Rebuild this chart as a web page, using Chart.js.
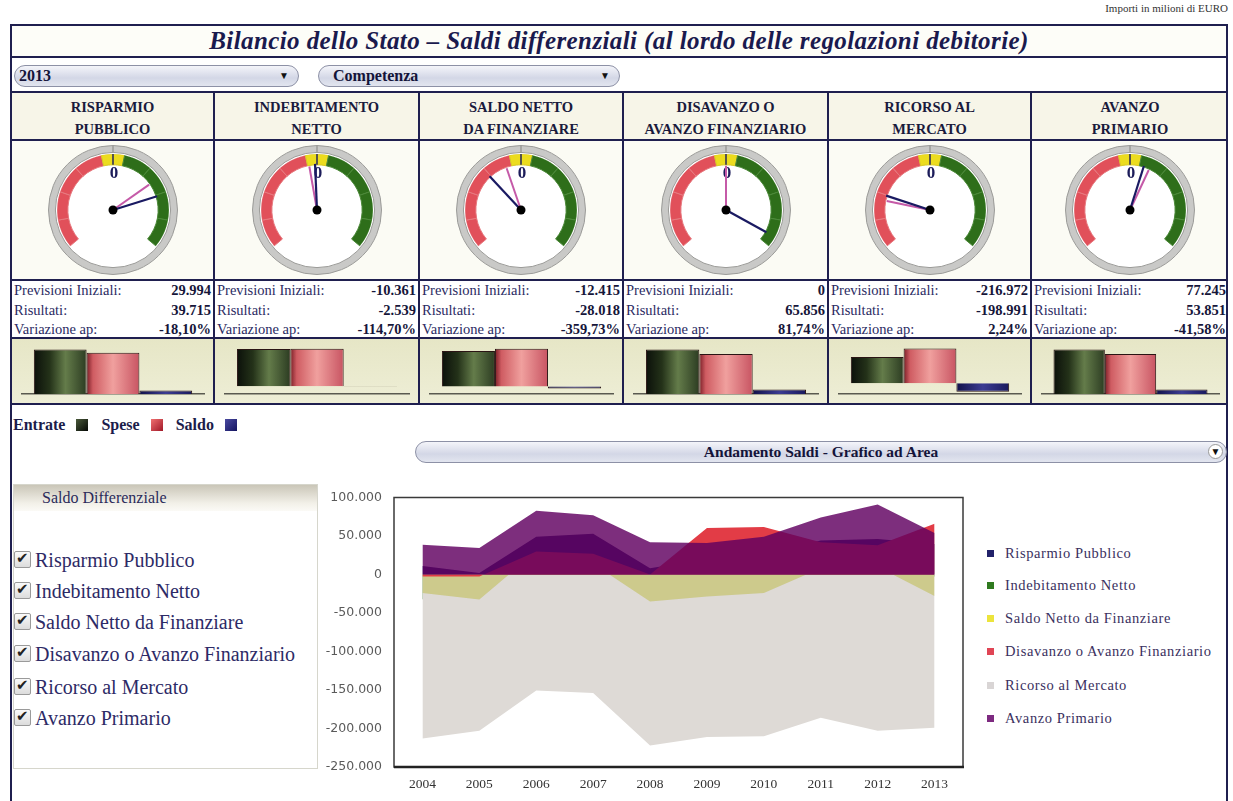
<!DOCTYPE html>
<html>
<head>
<meta charset="utf-8">
<script src="https://cdn.jsdelivr.net/npm/chart.js@4.4.1/dist/chart.umd.min.js"></script>
<style>
body{margin:0;width:1233px;height:801px;overflow:hidden;background:#fff;position:relative;
  font-family:"Liberation Serif","Times New Roman",serif;color:#1c1c4a}
.a{position:absolute}
.hl{position:absolute;left:10px;width:1218px;height:2px;background:#1f1f4f}
.vl{position:absolute;top:91px;width:2px;height:314px;background:#1f1f4f}
.combo{position:absolute;height:22px;border:1px solid #8d91a6;border-radius:11px;box-sizing:border-box;
  background:linear-gradient(#f4f5fa,#d3d7e6 60%,#e2e5ef);font-weight:bold;font-size:16px;line-height:20px;color:#14143a}
.combo .arr{position:absolute;right:9px;top:0;font-size:10px;color:#111}
.hdr{position:absolute;top:93px;height:46px;text-align:center;font-weight:bold;font-size:14.5px;line-height:22px;color:#1a1a3c;padding-top:3px;box-sizing:border-box}
.vals{position:absolute;top:281px;height:56px;font-size:14.5px;line-height:19.5px;color:#2a2a62}
.vals div{position:relative;padding-left:2px}
.vals b{position:absolute;right:2px;color:#16163a}
.chk{position:absolute;left:14px;font-size:20px;color:#2d2a66;white-space:nowrap;line-height:22px}
.chk span{display:inline-block;width:15px;height:15px;border:1px solid #9a9a9a;border-radius:2px;
  background:linear-gradient(#fafafa,#dcdcdc);vertical-align:-1px;margin-right:4px;position:relative}
.chk span:after{content:"\2714";position:absolute;left:1px;top:-5px;font-size:15px;color:#222;font-family:"DejaVu Sans"}
.leg{position:absolute;left:987px;font-size:14.5px;letter-spacing:0.6px;color:#3a305e;line-height:16px;white-space:nowrap}
.leg i{display:inline-block;width:7px;height:7px;margin-right:11px;vertical-align:1px}
.sq{display:inline-block;width:12px;height:12px;margin:0 13px 0 11px;vertical-align:-1px}
</style>
</head>
<body>
<div class="a" style="right:5px;top:2px;font-size:11px;color:#333">Importi in milioni di EURO</div>
<div class="a" style="left:10px;top:24px;width:1218px;height:800px;border:2px solid #1f1f4f;box-sizing:border-box"></div>
<div class="a" style="left:12px;top:26px;width:1214px;height:30px;background:#fdfdf8;text-align:center;font-weight:bold;font-style:italic;font-size:25px;letter-spacing:0.4px;line-height:30px;color:#1a1a4e">Bilancio dello Stato &ndash; Saldi differenziali (al lordo delle regolazioni debitorie)</div>
<div class="hl" style="top:56px"></div>
<div class="combo" style="left:14px;top:65px;width:285px;padding-left:4px">2013<span class="arr">&#9660;</span></div>
<div class="combo" style="left:318px;top:65px;width:302px;padding-left:14px">Competenza<span class="arr">&#9660;</span></div>
<div class="hl" style="top:91px"></div>
<div class="a" style="left:12px;top:93px;width:1214px;height:46px;background:#f7f5e8"></div>
<div class="hl" style="top:139px"></div>
<div class="a" style="left:12px;top:141px;width:1214px;height:138px;background:#fbfbf4"></div>
<div class="hl" style="top:279px"></div>
<div class="hl" style="top:337px"></div>
<div class="a" style="left:12px;top:339px;width:1214px;height:64px;background:linear-gradient(#e6e6c6,#eeeed6)"></div>
<div class="hl" style="top:403px"></div>
<div id="cells"></div>

<div class="a" style="left:13px;top:416px;font-weight:bold;font-size:16px;line-height:18px;color:#1c1c4a;white-space:nowrap">Entrate<i class="sq" style="background:linear-gradient(135deg,#4a5a3a,#050805)"></i>Spese<i class="sq" style="background:linear-gradient(135deg,#f07070,#a01828)"></i>Saldo<i class="sq" style="background:linear-gradient(135deg,#4a4aa0,#141460)"></i></div>

<div class="combo" style="left:415px;top:441px;width:812px;text-align:center;font-size:15.5px">Andamento Saldi - Grafico ad Area<span class="arr" style="right:3px;top:2px;width:15px;height:15px;border-radius:8px;background:#fff;border:1px solid #999;line-height:14px;text-align:center;box-sizing:border-box">&#9660;</span></div>

<div class="a" style="left:13px;top:484px;width:305px;height:285px;border:1px solid #d6d6cc;box-sizing:border-box;background:#fff"></div>
<div class="a" style="left:14px;top:485px;width:303px;height:26px;background:linear-gradient(#cac6b8,#f2f0e8 70%,#fbfaf6);font-size:16px;line-height:26px;color:#2a2a5a;padding-left:28px;box-sizing:border-box">Saldo Differenziale</div>
<div id="checks"></div>

<canvas id="mainChart" class="a" style="left:300px;top:478px;width:680px;height:322px"></canvas>
<div id="legend"></div>

<script>
// area chart data (milioni di euro)
const years = ["2004", "2005", "2006", "2007", "2008", "2009", "2010", "2011", "2012", "2013"];
const seriesNames = ["Risparmio Pubblico", "Indebitamento Netto", "Saldo Netto da Finanziare",
    "Disavanzo o Avanzo Finanziario", "Ricorso al Mercato", "Avanzo Primario"];
const risparmioPubblico = [11000, 2000, 49000, 53000, 8000, 20000, 28000, 44000, 46000, 39715];
const indebitamentoNetto = [-32000, -30000, -8000, -5000, -32000, -28000, -22000, -3000, -6000, -2539];
const saldoNetto = [-24000, -32500, 30000, 14000, -35000, -28500, -24000, 8000, 10000, -28018];
const disavanzo = [-2500, -2500, 30000, 27000, 0, 60500, 61800, 42000, 38000, 65856];
const ricorsoMercato = [-213000, -203000, -150500, -154000, -222000, -211000, -210000, -186000, -203000, -198991];
const avanzoPrimario = [38700, 34500, 82800, 77000, 42000, 41000, 49000, 74000, 91000, 53851];
const yTicks = [100000, 50000, 0, -50000, -100000, -150000, -200000, -250000];

// gauge / summary data
const gaugeTitles = [["RISPARMIO", "PUBBLICO"], ["INDEBITAMENTO", "NETTO"], ["SALDO NETTO", "DA FINANZIARE"],
    ["DISAVANZO O", "AVANZO FINANZIARIO"], ["RICORSO AL", "MERCATO"], ["AVANZO", "PRIMARIO"]];
const previsioni = [29994, -10361, -12415, 0, -216972, 77245];
const risultati = [39715, -2539, -28018, 65856, -198991, 53851];
const variazione = [-18.10, -114.70, -359.73, 81.74, 2.24, -41.58];
const gaugeMax = [71000, 135000, 85000, 72000, 360000, 400000];
const entrate = [520000, 478000, 468000, 640000, 600000, 540000];
const spese = [480285, 480539, 496018, 574144, 798991, 486149];
const barMin = [0, -100000, -100000, 0, -250000, 0];

const colX = [10, 213, 418, 622, 827, 1030, 1228];
const fmt = (v) => {
    let s = Math.abs(Math.round(v)).toString().replace(/\B(?=(\d{3})+(?!\d))/g, ".");
    return (v < 0 ? "-" : "") + s;
};

// table cells
let cells = document.getElementById("cells");
let html = "";
for (let i = 0; i < 6; i++) {
    let l = colX[i] + 2, w = colX[i + 1] - colX[i] - 2;
    if (i > 0) html += '<div class="vl" style="left:' + colX[i] + 'px"></div>';
    html += '<div class="hdr" style="left:' + l + 'px;width:' + w + 'px">' + gaugeTitles[i][0] + "<br>" + gaugeTitles[i][1] + "</div>";
    html += '<div class="vals" style="left:' + l + 'px;width:' + w + 'px">' +
        "<div>Previsioni Iniziali:<b>" + fmt(previsioni[i]) + "</b></div>" +
        "<div>Risultati:<b>" + fmt(risultati[i]) + "</b></div>" +
        "<div>Variazione ap:<b>" + variazione[i].toFixed(2).replace(".", ",") + "%</b></div></div>";
    let cx = Math.round((colX[i] + colX[i + 1]) / 2) + 1;
    html += '<canvas id="g' + i + '" class="a" style="left:' + (cx - 70) + 'px;top:140px;width:140px;height:140px"></canvas>';
    html += '<canvas id="b' + i + '" class="a" style="left:' + l + 'px;top:339px;width:' + w + 'px;height:64px"></canvas>';
}
cells.innerHTML = html;

let checks = "";
let checkY = [549, 580, 611, 643, 676, 707];
seriesNames.forEach((n, i) => {
    checks += '<div class="chk" style="top:' + checkY[i] + 'px"><span></span>' + n + "</div>";
});
document.getElementById("checks").innerHTML = checks;

// gauges
const gaugeNeedles = {
    id: "gaugeNeedles",
    beforeDatasetsDraw(chart) {
        let arc = chart.getDatasetMeta(0).data[0];
        let ctx = chart.ctx;
        ctx.save();
        ctx.fillStyle = "#ffffff";
        ctx.beginPath();
        ctx.arc(arc.x, arc.y, arc.outerRadius, 0, Math.PI * 2);
        ctx.fill();
        ctx.restore();
    },
    afterDatasetsDraw(chart, args, opts) {
        let arc = chart.getDatasetMeta(0).data[0];
        let band = chart.getDatasetMeta(2).data[0];
        let cx = arc.x, cy = arc.y;
        let ctx = chart.ctx;
        let ang = (v) => (Math.max(-1, Math.min(1, v / opts.max)) * 130 - 90) * Math.PI / 180;
        ctx.save();
        ctx.strokeStyle = "#2a2a5a";
        ctx.lineWidth = 1.5;
        ctx.beginPath();
        ctx.moveTo(cx, cy - band.innerRadius);
        ctx.lineTo(cx, cy - band.outerRadius);
        ctx.stroke();
        ctx.fillStyle = "#1c1c5a";
        ctx.font = "bold 17px 'Liberation Serif'";
        ctx.textAlign = "center";
        ctx.textBaseline = "middle";
        ctx.fillText("0", cx + 1, cy - 36);
        let needle = (v, color, len, width) => {
            let a = ang(v);
            ctx.strokeStyle = color;
            ctx.lineWidth = width;
            ctx.beginPath();
            ctx.moveTo(cx, cy);
            ctx.lineTo(cx + Math.cos(a) * len, cy + Math.sin(a) * len);
            ctx.stroke();
        };
        needle(opts.prev, "#c55aa8", band.innerRadius - 1, 2);
        needle(opts.ris, "#1a1a62", band.innerRadius + 1, 2.2);
        ctx.fillStyle = "#000";
        ctx.beginPath();
        ctx.arc(cx, cy, 4.5, 0, Math.PI * 2);
        ctx.fill();
        ctx.restore();
    },
};

for (let i = 0; i < 6; i++) {
    new Chart(document.getElementById("g" + i), {
        type: "doughnut",
        data: {
            datasets: [
                { data: [1], backgroundColor: "#c9c9c7", borderColor: "#9b9b98", borderWidth: 1, weight: 7 },
                { data: [1], backgroundColor: "#ffffff", borderWidth: 0, weight: 1.6 },
                {
                    data: [29.5, 29.5, 29.5, 29.5, 12, 12, 29.5, 29.5, 29.5, 29.5],
                    backgroundColor: ["#e1505a", "#e1505a", "#e1505a", "#e1505a", "#ecdc1e", "#ecdc1e",
                        "#2e6e1a", "#2e6e1a", "#2e6e1a", "#2e6e1a"],
                    borderColor: ["#e77a80", "#e77a80", "#e77a80", "#e77a80", "#d8c820", "#d8c820",
                        "#4d8a3a", "#4d8a3a", "#4d8a3a", "#4d8a3a"],
                    borderWidth: 1,
                    rotation: -130,
                    circumference: 260,
                    weight: 11,
                },
            ],
        },
        options: {
            responsive: false,
            animation: false,
            cutout: "70%",
            layout: { padding: 5 },
            plugins: {
                legend: { display: false },
                tooltip: { enabled: false },
                gaugeNeedles: { max: gaugeMax[i], prev: previsioni[i], ris: risultati[i] },
            },
        },
        plugins: [gaugeNeedles],
    });
}

// mini bar charts
let barFill = (stops) => (ctx) => {
    let chart = ctx.chart, area = chart.chartArea;
    if (!area) return stops[1][1];
    let group = (area.right - area.left) * 0.87;
    let w = group / 3;
    let x0 = (area.left + area.right) / 2 - group / 2 + ctx.datasetIndex * w;
    let g = chart.ctx.createLinearGradient(x0, 0, x0 + w, 0);
    stops.forEach((s) => g.addColorStop(s[0], s[1]));
    return g;
};
const greenStops = [[0, "#0b100a"], [0.3, "#243219"], [0.6, "#647c4a"], [1, "#2c3c22"]];
const redStops = [[0, "#7a1e26"], [0.12, "#cf5c62"], [0.5, "#f0a09e"], [1, "#c85462"]];
const navyStops = [[0, "#12124a"], [0.5, "#3c3c92"], [1, "#1a1a5e"]];

for (let i = 0; i < 6; i++) {
    let top = Math.max(entrate[i], spese[i]) * 1.1;
    new Chart(document.getElementById("b" + i), {
        type: "bar",
        data: {
            labels: [""],
            datasets: [
                { label: "Entrate", data: [entrate[i]], backgroundColor: barFill(greenStops) },
                { label: "Spese", data: [spese[i]], backgroundColor: barFill(redStops) },
                { label: "Saldo", data: [risultati[i]], backgroundColor: barFill(navyStops) },
            ],
        },
        options: {
            responsive: false,
            animation: false,
            datasets: { bar: { barPercentage: 1, categoryPercentage: 0.87, borderColor: "#2a1414", borderWidth: 1 } },
            layout: { padding: { left: 10, right: 9, top: 6, bottom: 9 } },
            scales: {
                x: { grid: { display: false, drawTicks: false }, ticks: { display: false }, border: { display: true, color: "#5a5a50", width: 1.5 } },
                y: { display: false, min: barMin[i], max: top },
            },
            plugins: { legend: { display: false }, tooltip: { enabled: false } },
        },
    });
}

// main area chart
const fills = ["rgb(40,28,100)", "rgb(46,110,30)", "rgba(188,186,66,0.5)", "rgb(226,60,70)", "rgb(222,218,214)", "rgba(96,0,96,0.82)"];
const legendColors = ["#22226a", "#2f7a1f", "#ece43c", "#e04555", "#d9d5d5", "#7d2a80"];
const drawOrder = [2, 5, 3, 1, 4, 0];
const seriesData = [risparmioPubblico, indebitamentoNetto, saldoNetto, disavanzo, ricorsoMercato, avanzoPrimario];

const boxFrame = {
    id: "boxFrame",
    afterDraw(chart) {
        let a = chart.chartArea, ctx = chart.ctx;
        ctx.save();
        ctx.strokeStyle = "#3a3a3a";
        ctx.lineWidth = 1.5;
        ctx.strokeRect(a.left, a.top, a.right - a.left, a.bottom - a.top);
        ctx.strokeStyle = "#222";
        ctx.lineWidth = 2.5;
        ctx.beginPath();
        ctx.moveTo(a.left, a.bottom);
        ctx.lineTo(a.right + 1, a.bottom);
        ctx.stroke();
        ctx.restore();
    },
};

new Chart(document.getElementById("mainChart"), {
    type: "line",
    data: {
        labels: years,
        datasets: seriesData.map((d, i) => ({
            label: seriesNames[i],
            data: d,
            fill: "origin",
            backgroundColor: fills[i],
            borderWidth: 0,
            pointRadius: 0,
            tension: 0,
            order: drawOrder[i],
        })),
    },
    options: {
        responsive: false,
        animation: false,
        layout: { padding: { top: 9, right: 17, left: 0, bottom: 0 } },
        scales: {
            x: {
                offset: true,
                grid: { display: false, drawTicks: false },
                border: { display: false },
                ticks: { padding: 9, color: "#333", font: { family: "Liberation Serif", size: 13.5 } },
                afterFit: (s) => { s.height = 33; },
            },
            y: {
                min: -250000,
                max: 100000,
                afterBuildTicks: (s) => { s.ticks = yTicks.map((v) => ({ value: v })); },
                grid: { display: false, drawTicks: false },
                border: { display: false },
                ticks: { padding: 12, color: "#5a5a5a", font: { family: "DejaVu Sans", size: 12.5 }, callback: (v) => fmt(v) },
                afterFit: (s) => { s.width = 94; },
            },
        },
        plugins: { legend: { display: false }, tooltip: { enabled: false } },
    },
    plugins: [boxFrame],
});

let legY = [545, 577, 610, 643, 677, 710];
document.getElementById("legend").innerHTML = seriesNames.map((n, i) =>
    '<div class="leg" style="top:' + legY[i] + 'px"><i style="background:' + legendColors[i] + '"></i>' + n + "</div>").join("");
</script>
</body>
</html>
